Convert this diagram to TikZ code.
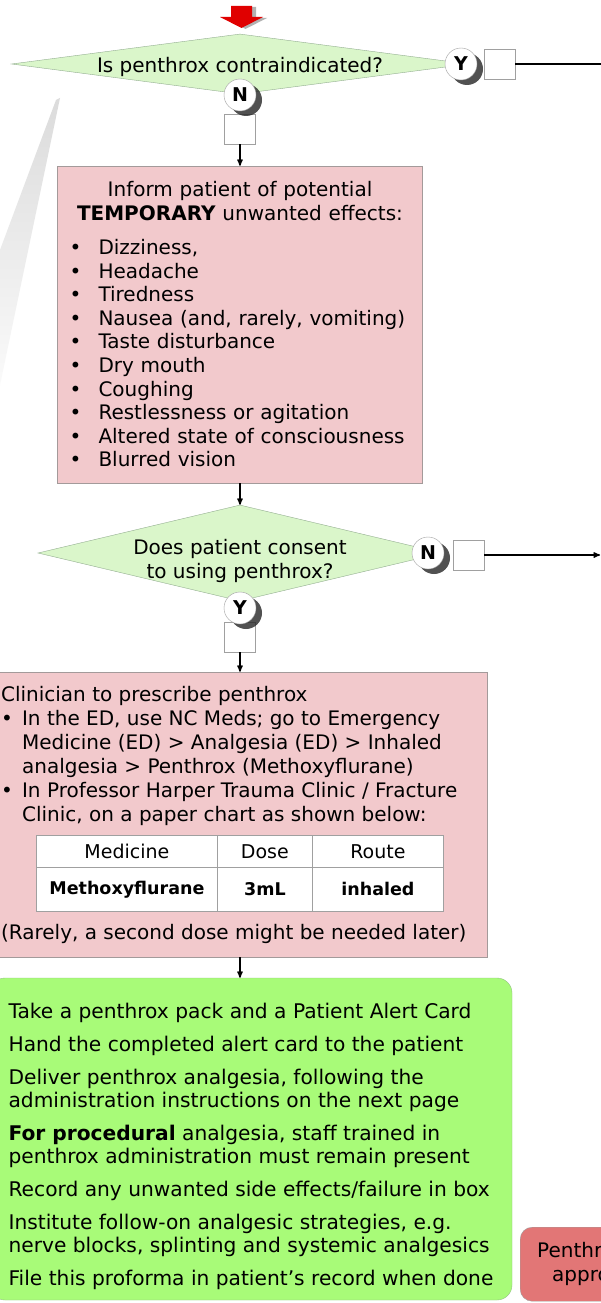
\documentclass[tikz,border=0pt]{standalone}
\usepackage{fontspec}
\setmainfont{DejaVu Sans}
\usetikzlibrary{arrows,shapes,calc,shadows}

\definecolor{askfill}{HTML}{DAF6CA}
\definecolor{askline}{HTML}{93AE90}
\definecolor{notefill}{HTML}{F2C9CC}
\definecolor{noteline}{HTML}{A39A9A}
\definecolor{dofill}{HTML}{A8FB78}
\definecolor{doline}{HTML}{93C283}
\definecolor{stopfill}{HTML}{E27676}
\definecolor{boxline}{HTML}{A0A0A0}
\definecolor{entryred}{HTML}{E00000}

\newcommand{\bodyfont}{\fontsize{20}{23.6}\selectfont}
\newcommand{\effect}{\makebox[29pt][l]{\textbullet}}
\newcommand{\route}{\makebox[21pt][l]{\textbullet}}

\tikzset{
    ampersand replacement=\&,
    >=stealth',
    question/.style={
        draw=askline,
        fill=askfill,
        diamond,
        aspect=7,
        inner sep=0pt,
    },
    asktext/.style={
        font=\bodyfont,
        align=center,
    },
    answer/.style={
        draw=boxline,
        fill=white,
        circle,
        minimum size=32pt,
        inner sep=0pt,
        font=\fontsize{19}{19}\selectfont\bfseries,
        drop shadow={shadow xshift=6pt, shadow yshift=-5pt, fill=black!85, opacity=.8},
    },
    tickbox/.style={
        draw=boxline,
        fill=white,
        minimum width=31pt,
        minimum height=30pt,
        inner sep=0pt,
    },
    note/.style={
        draw=noteline,
        fill=notefill,
        font=\bodyfont,
    },
    todo/.style={
        draw=doline,
        fill=dofill,
        rounded corners=15pt,
        align=left,
        font=\fontsize{20.2}{23}\selectfont,
    },
    refusal/.style={
        draw=boxline,
        fill=stopfill,
        rounded corners=12pt,
        align=left,
        font=\bodyfont,
    },
    cell/.style={
        draw=boxline,
        fill=white,
        inner sep=0pt,
        font=\fontsize{19}{19}\selectfont,
    },
    hand/.style={
        font=\fontsize{17.5}{17.5}\selectfont\bfseries,
    },
    flow/.style={
        ->,
        line width=1.3pt,
    },
}

\begin{document}
\begin{tikzpicture}[x=1pt, y=-1pt]
    \path[use as bounding box, fill=white] (0,0) rectangle (601,1303);

    % faded wedge on the left
    \shade[top color=black!14, bottom color=black!2] (60,98) -- (0,385) -- (0,250) -- (56,100) -- cycle;

    % entry arrow
    \fill[entryred, drop shadow={shadow xshift=4pt, shadow yshift=-1pt, fill=black!60}]
        (231,6) -- (252,6) -- (252,17) -- (263,17) -- (241.5,28) -- (220,17) -- (231,17) -- cycle;

    % decisions
    \node[question, minimum width=457pt, minimum height=60pt,
        label={[asktext, yshift=-3pt]center:Is penthrox contraindicated?}] (contra) at (240,64) {};
    \node[question, minimum width=404pt, minimum height=96pt,
        label={[asktext, yshift=-8pt]center:Does patient consent\\to using penthrox?}] (consent) at (240,553) {};

    \node[tickbox] (yesright) at (499.5,64) {};
    \node[tickbox] (nobox) at (240,129) {};
    \node[tickbox] (noright) at (468.5,555) {};
    \node[tickbox] (yesbox) at (240,637) {};

    \node[answer] (yescontra) at (461,64) {Y};
    \node[answer] (nocontra) at (240,95) {N};
    \node[answer] (noconsent) at (428,553) {N};
    \node[answer] (yesconsent) at (240,608) {Y};

    % unwanted effects
    \node[note, text width=341pt, inner xsep=12pt, minimum height=317pt, align=left] (effects) at (240,324.5) {%
        \makebox[\linewidth]{Inform patient of potential}\\
        \makebox[\linewidth]{\textbf{TEMPORARY} unwanted effects:}\\[10.4pt]
        \effect Dizziness,\\
        \effect Headache\\
        \effect Tiredness\\
        \effect Nausea (and, rarely, vomiting)\\
        \effect Taste disturbance\\
        \effect Dry mouth\\
        \effect Coughing\\
        \effect Restlessness or agitation\\
        \effect Altered state of consciousness\\
        \effect Blurred vision
    };

    % prescription
    \node[note, align=left, minimum width=507.5pt, minimum height=285pt, font=\fontsize{20}{24}\selectfont] (prescribe) at (233.75,814.5) {%
        Clinician to prescribe penthrox\\
        \route In the ED, use NC Meds; go to Emergency\\
        \hspace*{21pt}Medicine (ED) > Analgesia (ED) > Inhaled\\
        \hspace*{21pt}analgesia > Penthrox (Methoxyflurane)\\
        \route In Professor Harper Trauma Clinic / Fracture\\
        \hspace*{21pt}Clinic, on a paper chart as shown below:\\[94pt]
        (Rarely, a second dose might be needed later)
    };

    \matrix (chart) [anchor=north west, inner sep=0pt, column sep=-0.4pt, row sep=-0.4pt] at (36,835) {
        \node[cell, minimum width=181pt, minimum height=32pt] (medicine) {Medicine}; \&
        \node[cell, minimum width=95pt, minimum height=32pt] (dose) {Dose}; \&
        \node[cell, minimum width=131pt, minimum height=32pt] (route) {Route}; \\
        \node[cell, hand, minimum width=181pt, minimum height=44pt] (drug) {Methoxyflurane}; \&
        \node[cell, hand, minimum width=95pt, minimum height=44pt] (amount) {3mL}; \&
        \node[cell, hand, minimum width=131pt, minimum height=44pt] (way) {inhaled}; \\
    };

    % what to do
    \node[todo, minimum width=522pt, minimum height=322pt] (actions) at (251,1139) {%
        \rule{0pt}{30pt}Take a penthrox pack and a Patient Alert Card\\[10pt]
        Hand the completed alert card to the patient\\[10pt]
        Deliver penthrox analgesia, following the\\
        administration instructions on the next page\\[10pt]
        \textbf{For procedural} analgesia, staff trained in\\
        penthrox administration must remain present\\[10pt]
        Record any unwanted side effects/failure in box\\[10pt]
        Institute follow-on analgesic strategies, e.g.\\
        nerve blocks, splinting and systemic analgesics\\[10pt]
        File this proforma in patient’s record when done
    };

    \node[refusal, anchor=north west, text width=96pt, inner xsep=17pt, minimum width=130pt, minimum height=74pt] (refusal) at (520,1227) {Penthr\\\hspace*{15pt}appro};

    % connectors
    \coordinate (offyes) at (615,64);
    \coordinate (offno) at (600,555);
    \draw[line width=1.3pt] (yesright.east) -- (offyes);
    \draw[flow] (noright.east) -- (offno);
    \draw[flow] (nobox.south) -- (nobox.south |- effects.north);
    \draw[flow] (effects.south -| consent.north) -- (consent.north);
    \draw[flow] (yesbox.south) -- (yesbox.south |- prescribe.north);
    \draw[flow] (prescribe.south -| yesbox.south) -- (yesbox.south |- actions.north);
\end{tikzpicture}
\end{document}
